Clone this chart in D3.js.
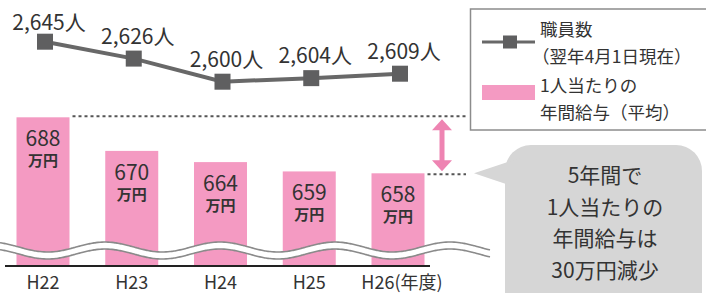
<!DOCTYPE html>
<meta charset="utf-8">
<head>
  <title>職員数と年間給与</title>
</head>
<style>
body { margin: 0; background: #fff; }
svg { display: block; font-family: "Noto Sans CJK JP", "Noto Sans", sans-serif; }
text { fill: #333; }
</style>
<body>
<script src="https://cdn.jsdelivr.net/npm/d3@7"></script>
<script>
  // データ
  var years = ["H22", "H23", "H24", "H25", "H26"];
  var yearLabels = ["H22", "H23", "H24", "H25", "H26(年度)"];
  var staff = [2645, 2626, 2600, 2604, 2609];      // 職員数（人）
  var salary = [688, 670, 664, 659, 658];          // 1人当たりの年間給与（万円）

  var width = 706, height = 293;
  var pink = "#f49ac2", grey = "#686868";

  var svg = d3.select("body").append("svg")
    .attr("width", width)
    .attr("height", height);

  var x = d3.scalePoint().domain(years).range([43, 398]);
  var yBar = d3.scaleLinear().domain([658, 688]).range([173.3, 117.3]);
  var yLine = d3.scaleLinear().domain([2600, 2645]).range([81.7, 41.7]);
  var baseY = 266, barW = 53;

  // 棒
  var bars = svg.append("g");
  bars.selectAll("rect")
    .data(salary)
    .enter().append("rect")
    .attr("x", function(d, i) { return x(years[i]) - barW / 2; })
    .attr("y", function(d) { return yBar(d); })
    .attr("width", barW)
    .attr("height", function(d) { return baseY - yBar(d); })
    .attr("fill", pink);

  // 金額ラベル（数字＋万円を1つのtextに）
  var vl = bars.selectAll("text.v")
    .data(salary)
    .enter().append("text")
    .attr("class", "v")
    .attr("text-anchor", "middle");
  vl.append("tspan")
    .attr("x", function(d, i) { return x(years[i]); })
    .attr("y", function(d) { return yBar(d) + 29; })
    .attr("font-size", 21)
    .text(function(d) { return d; });
  vl.append("tspan")
    .attr("x", function(d, i) { return x(years[i]); })
    .attr("y", function(d) { return yBar(d) + 49; })
    .attr("font-size", 15)
    .attr("font-weight", "bold")
    .text("万円");

  // 波線（省略記号）
  var waveX = d3.range(0, 491, 2);
  function wy(xx, off) { return 247 + off - 5 * Math.cos(2 * Math.PI * (xx - 105) / 115); }
  var area = d3.area().x(function(d) { return d; })
    .y0(function(d) { return wy(d, 0); })
    .y1(function(d) { return wy(d, 7); })
    .curve(d3.curveBasis);
  var line = function(off) {
    return d3.line().x(function(d) { return d; }).y(function(d) { return wy(d, off); }).curve(d3.curveBasis)(waveX);
  };
  svg.append("path").attr("d", area(waveX)).attr("fill", "#fff");
  svg.append("path").attr("d", line(0)).attr("fill", "none").attr("stroke", "#8a8a8a").attr("stroke-width", 1.6);
  svg.append("path").attr("d", line(7)).attr("fill", "none").attr("stroke", "#8a8a8a").attr("stroke-width", 1.6);

  // 基線
  svg.append("line")
    .attr("x1", 5).attr("x2", 430)
    .attr("y1", baseY).attr("y2", baseY)
    .attr("stroke", "#222").attr("stroke-width", 2);

  // 年度ラベル
  svg.selectAll("text.x")
    .data(yearLabels)
    .enter().append("text")
    .attr("class", "x")
    .attr("x", function(d, i) { return x(years[i]) + (i == 4 ? 4 : 0); })
    .attr("y", 289)
    .attr("text-anchor", "middle")
    .attr("font-size", 18)
    .text(function(d) { return d; });

  // 点線と矢印
  var yTop = yBar(d3.max(salary)), yBot = yBar(salary[salary.length - 1]);
  svg.append("line")
    .attr("x1", x(years[0]) + barW / 2 + 3).attr("x2", 466)
    .attr("y1", yTop - 1).attr("y2", yTop - 1)
    .attr("stroke", "#555").attr("stroke-width", 2).attr("stroke-dasharray", "3,3");
  svg.append("line")
    .attr("x1", x(years[4]) + barW / 2 + 3).attr("x2", 466)
    .attr("y1", yBot + 1).attr("y2", yBot + 1)
    .attr("stroke", "#555").attr("stroke-width", 2).attr("stroke-dasharray", "3,3");

  var ax = 442, a1 = yTop + 2, a2 = yBot - 2;
  svg.append("path")
    .attr("d", "M" + ax + "," + a1 + "L" + (ax + 10) + "," + (a1 + 11) + "L" + (ax + 2.5) + "," + (a1 + 11) +
      "L" + (ax + 2.5) + "," + (a2 - 11) + "L" + (ax + 10) + "," + (a2 - 11) + "L" + ax + "," + a2 +
      "L" + (ax - 10) + "," + (a2 - 11) + "L" + (ax - 2.5) + "," + (a2 - 11) + "L" + (ax - 2.5) + "," + (a1 + 11) +
      "L" + (ax - 10) + "," + (a1 + 11) + "Z")
    .attr("fill", "#ee84b2");

  // 折れ線（職員数）
  var pts = staff.map(function(d, i) { return [x(years[i]) + 2, yLine(d)]; });
  svg.append("path")
    .attr("d", d3.line()(pts))
    .attr("fill", "none").attr("stroke", grey).attr("stroke-width", 4);
  svg.selectAll("rect.m")
    .data(pts)
    .enter().append("rect")
    .attr("class", "m")
    .attr("x", function(d) { return d[0] - 8; })
    .attr("y", function(d) { return d[1] - 8; })
    .attr("width", 16).attr("height", 16)
    .attr("fill", "#5f5f60");
  svg.selectAll("text.s")
    .data(staff)
    .enter().append("text")
    .attr("class", "s")
    .attr("x", function(d, i) { return pts[i][0] + 4; })
    .attr("y", function(d, i) { return pts[i][1] - (i == 0 ? 12 : 15); })
    .attr("text-anchor", "middle")
    .attr("font-size", 21)
    .text(function(d) { return d3.format(",")(d) + "人"; });

  // 凡例
  var lg = svg.append("g");
  lg.append("rect")
    .attr("x", 470.5).attr("y", 9)
    .attr("width", 260).attr("height", 121)
    .attr("fill", "#fff").attr("stroke", "#8c8c8c").attr("stroke-width", 1.5);
  lg.append("line")
    .attr("x1", 482).attr("x2", 535).attr("y1", 42).attr("y2", 42)
    .attr("stroke", grey).attr("stroke-width", 3);
  lg.append("rect")
    .attr("x", 503).attr("y", 35.5).attr("width", 14).attr("height", 13)
    .attr("fill", "#5f5f60");
  lg.append("rect")
    .attr("x", 482).attr("y", 85).attr("width", 53).attr("height", 15)
    .attr("fill", pink);
  var legendText = [["職員数", 36, 540], ["（翌年4月1日現在）", 63, 532], ["1人当たりの", 92, 540], ["年間給与（平均）", 119, 540]];
  lg.selectAll("text")
    .data(legendText)
    .enter().append("text")
    .attr("x", function(d) { return d[2]; })
    .attr("y", function(d) { return d[1]; })
    .attr("font-size", 17.5)
    .text(function(d) { return d[0]; });

  // 吹き出し
  var cg = svg.append("g");
  cg.append("rect")
    .attr("x", 505).attr("y", 145)
    .attr("width", 197).attr("height", 200)
    .attr("rx", 26)
    .attr("fill", "#d6d6d6");
  cg.append("path")
    .attr("d", "M474," + yBot + "L520,158L520,184L506,184Z")
    .attr("fill", "#d6d6d6");
  var callout = ["5年間で", "1人当たりの", "年間給与は", "30万円減少"];
  cg.selectAll("text")
    .data(callout)
    .enter().append("text")
    .attr("x", 605)
    .attr("y", function(d, i) { return 183 + i * 31.5; })
    .attr("text-anchor", "middle")
    .attr("font-size", 21)
    .text(function(d) { return d; });
</script>
</body>
